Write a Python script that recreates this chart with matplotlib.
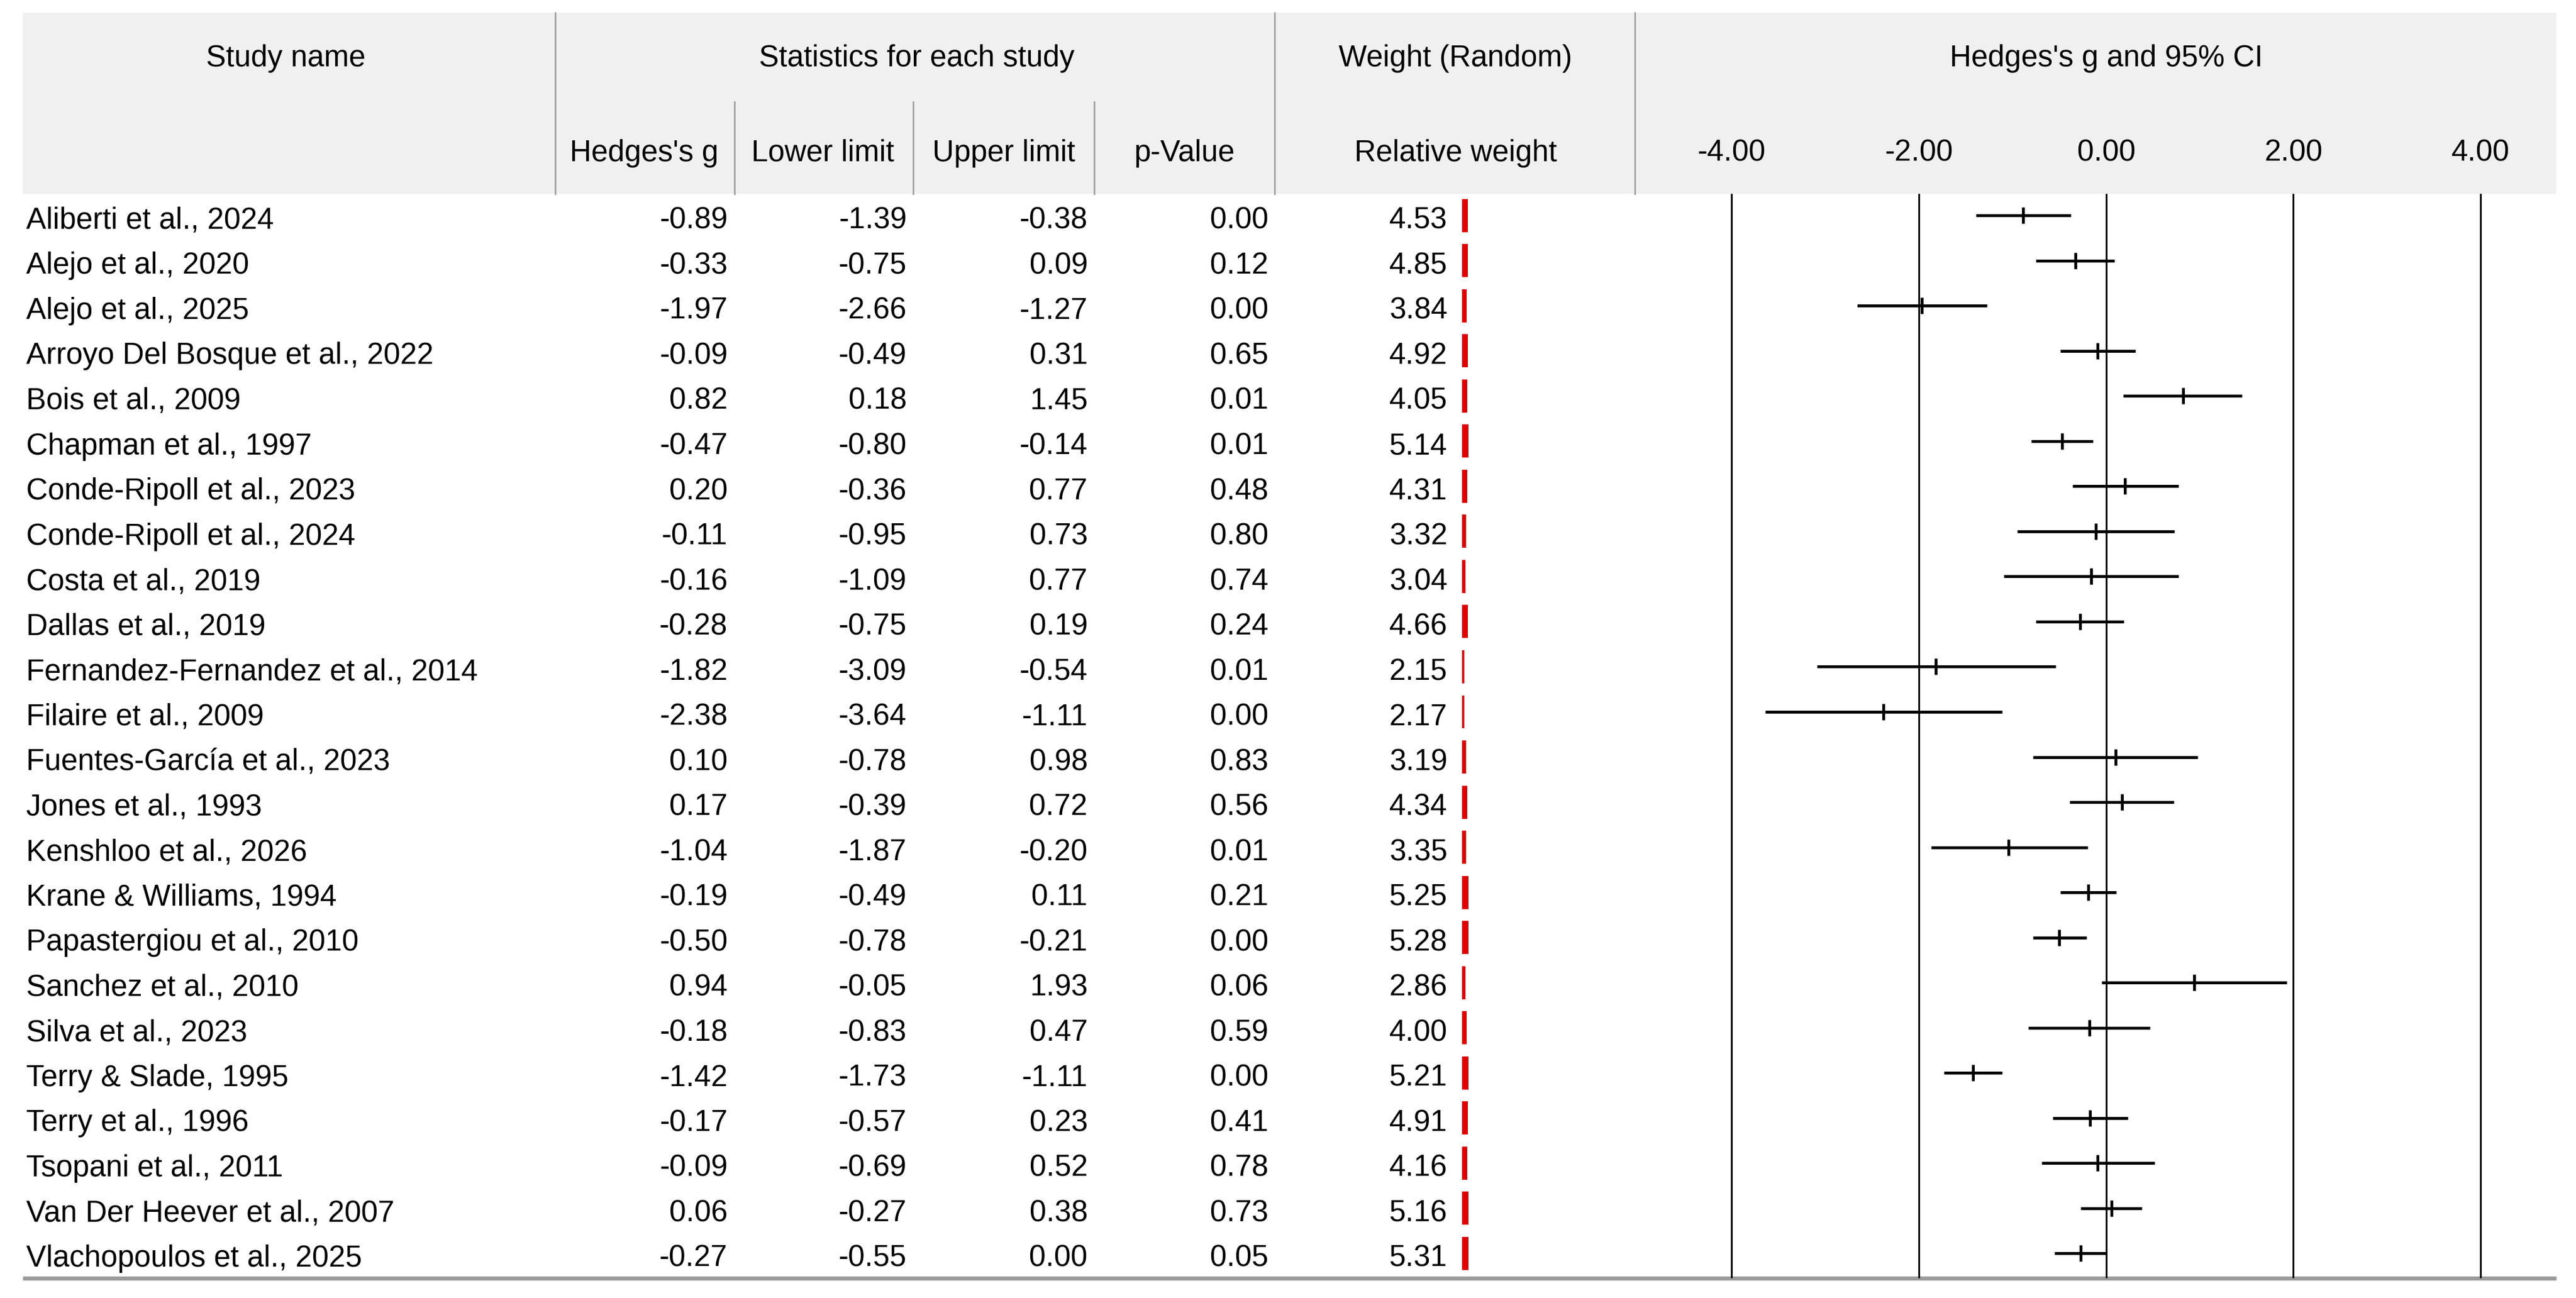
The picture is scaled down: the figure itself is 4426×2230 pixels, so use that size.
import matplotlib
matplotlib.use("Agg")
import matplotlib.pyplot as plt
import matplotlib.transforms as mtransforms
from matplotlib import font_manager
from matplotlib.patches import Rectangle
import numpy as np

studies = [
    "Aliberti et al., 2024", "Alejo et al., 2020", "Alejo et al., 2025",
    "Arroyo Del Bosque et al., 2022", "Bois et al., 2009", "Chapman et al., 1997",
    "Conde-Ripoll et al., 2023", "Conde-Ripoll et al., 2024", "Costa et al., 2019",
    "Dallas et al., 2019", "Fernandez-Fernandez et al., 2014", "Filaire et al., 2009",
    "Fuentes-García et al., 2023", "Jones et al., 1993", "Kenshloo et al., 2026",
    "Krane & Williams, 1994", "Papastergiou et al., 2010", "Sanchez et al., 2010",
    "Silva et al., 2023", "Terry & Slade, 1995", "Terry et al., 1996",
    "Tsopani et al., 2011", "Van Der Heever et al., 2007", "Vlachopoulos et al., 2025",
]
hedges_g = [-0.89, -0.33, -1.97, -0.09, 0.82, -0.47, 0.20, -0.11, -0.16, -0.28, -1.82, -2.38,
            0.10, 0.17, -1.04, -0.19, -0.50, 0.94, -0.18, -1.42, -0.17, -0.09, 0.06, -0.27]
lower = [-1.39, -0.75, -2.66, -0.49, 0.18, -0.80, -0.36, -0.95, -1.09, -0.75, -3.09, -3.64,
         -0.78, -0.39, -1.87, -0.49, -0.78, -0.05, -0.83, -1.73, -0.57, -0.69, -0.27, -0.55]
upper = [-0.38, 0.09, -1.27, 0.31, 1.45, -0.14, 0.77, 0.73, 0.77, 0.19, -0.54, -1.11,
         0.98, 0.72, -0.20, 0.11, -0.21, 1.93, 0.47, -1.11, 0.23, 0.52, 0.38, 0.00]
p_value = [0.00, 0.12, 0.00, 0.65, 0.01, 0.01, 0.48, 0.80, 0.74, 0.24, 0.01, 0.00,
           0.83, 0.56, 0.01, 0.21, 0.00, 0.06, 0.59, 0.00, 0.41, 0.78, 0.73, 0.05]
rel_weight = [4.53, 4.85, 3.84, 4.92, 4.05, 5.14, 4.31, 3.32, 3.04, 4.66, 2.15, 2.17,
              3.19, 4.34, 3.35, 5.25, 5.28, 2.86, 4.00, 5.21, 4.91, 4.16, 5.16, 5.31]
axis_ticks = [-4, -2, 0, 2, 4]

# font: narrow sans if available
names = {f.name for f in font_manager.fontManager.ttflist}
if "Liberation Sans Narrow" in names:
    FONT, FS = "Liberation Sans Narrow", 44
else:
    FONT, FS = "Liberation Sans", 37
plt.rcParams["font.family"] = [FONT, "DejaVu Sans"]

# layout in a 1568 x 790 reference grid
W, H = 1568, 790
TOP, BOT = 118, 778
ROW0, DROW = 131.2, 27.46
n = len(studies)
rows = np.arange(n)
ylim = ((BOT - ROW0) / DROW, (TOP - ROW0) / DROW)

fig = plt.figure(figsize=(44.26, 22.30), dpi=100)

bg = fig.add_axes([0, 0, 1, 1])
bg.set_xlim(0, W)
bg.set_ylim(H, 0)
bg.axis("off")

# header band
bg.add_patch(Rectangle((13.7, 7.7), 1556 - 13.7, TOP - 7.7, color="#f0f0f0", lw=0))
for x in [338, 776, 995]:
    bg.plot([x, x], [7.7, TOP], color="#a0a0a0", lw=2)
for x in [447, 556, 666]:
    bg.plot([x, x], [62, TOP], color="#a0a0a0", lw=2)

r1, r2 = 40.5, 98
for label, x in [("Study name", 174), ("Statistics for each study", 558),
                 ("Weight (Random)", 886), ("Hedges's g and 95% CI", 1282)]:
    bg.text(x, r1, label, ha="center", va="baseline", fontsize=FS)
for label, x in [("Hedges's g", 392), ("Lower limit", 501), ("Upper limit", 611),
                 ("p-Value", 721), ("Relative weight", 886)]:
    bg.text(x, r2, label, ha="center", va="baseline", fontsize=FS)

bg.plot([13.7, 1556], [BOT, BOT], color="#9a9a9a", lw=5, solid_capstyle="butt")

# table
tab = fig.add_axes([0, (H - BOT) / H, 1, (BOT - TOP) / H])
tab.set_xlim(0, W)
tab.set_ylim(*ylim)
tab.axis("off")
base = 8.0 / DROW
for i in rows:
    tab.text(16, i + base, studies[i], ha="left", va="baseline", fontsize=FS)
    for val, x in [(hedges_g[i], 443), (lower[i], 552), (upper[i], 662),
                   (p_value[i], 772), (rel_weight[i], 881)]:
        tab.text(x, i + base, f"{val:.2f}", ha="right", va="baseline", fontsize=FS)
tab.barh(rows, np.array(rel_weight) * 0.78, left=889.8, height=0.735, color="#e00000", lw=0)

# forest plot
fa = fig.add_axes([997 / W, (H - BOT) / H, (1567 - 997) / W, (BOT - TOP) / H])
fa.set_xlim(-5, 5)
fa.set_ylim(*ylim)
fa.axis("off")
for v in axis_ticks:
    fa.axvline(v, color="black", lw=2.2)
fa.hlines(rows, lower, upper, color="black", lw=3.6)
fa.plot(hedges_g, rows, linestyle="none", marker="|", color="black", ms=20, mew=3.5)

trans = mtransforms.blended_transform_factory(fa.transData, bg.transData)
for v in axis_ticks:
    bg.text(v, r2, f"{v:.2f}", transform=trans, ha="center", va="baseline", fontsize=FS)

fig.savefig("out.png", dpi=100)
